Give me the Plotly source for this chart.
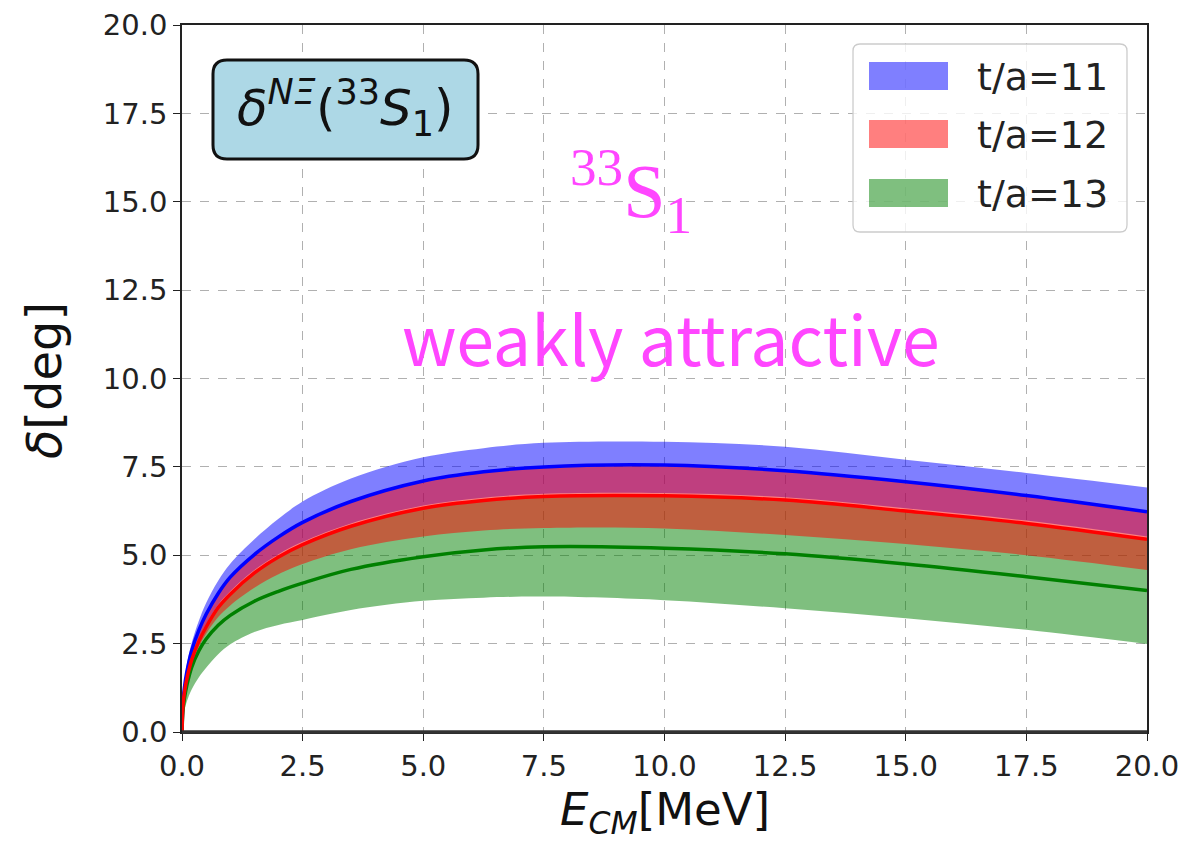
import plotly.graph_objects as go

# ---------------- data ----------------
E_cm = [0, 0.02, 0.05, 0.1, 0.2, 0.35, 0.5, 0.75, 1.0, 1.5, 2.0, 2.5, 3.5, 5.0, 6.25, 7.5, 10.0, 12.5, 15.0, 17.5, 20.0]

# t/a = 11 (blue)
blue_mid = [0, 0.85, 1.25, 1.7, 2.3, 2.88, 3.33, 3.92, 4.38, 5.02, 5.52, 5.93, 6.52, 7.1, 7.36, 7.5, 7.55, 7.39, 7.08, 6.69, 6.23]
blue_hi = [0, 0.95, 1.4, 1.9, 2.52, 3.15, 3.65, 4.28, 4.76, 5.45, 6.03, 6.52, 7.17, 7.77, 8.03, 8.18, 8.21, 8.07, 7.7, 7.33, 6.92]
blue_lo = [0, 0.82, 1.2, 1.58, 2.12, 2.65, 3.05, 3.6, 3.98, 4.58, 5.03, 5.38, 5.9, 6.41, 6.63, 6.74, 6.76, 6.64, 6.33, 5.98, 5.53]

# t/a = 12 (red)
red_mid = [0, 0.75, 1.12, 1.5, 2.04, 2.57, 2.97, 3.52, 3.9, 4.5, 4.95, 5.3, 5.82, 6.33, 6.55, 6.66, 6.68, 6.56, 6.25, 5.9, 5.45]
red_hi = [0, 0.85, 1.25, 1.7, 2.3, 2.88, 3.33, 3.92, 4.38, 5.02, 5.52, 5.93, 6.52, 7.1, 7.36, 7.5, 7.55, 7.39, 7.08, 6.69, 6.23]
red_lo = [0, 0.68, 1.02, 1.4, 1.92, 2.42, 2.78, 3.25, 3.58, 4.08, 4.46, 4.75, 5.17, 5.53, 5.7, 5.77, 5.76, 5.57, 5.32, 5.0, 4.58]

# t/a = 13 (green)
green_mid = [0, 0.6, 0.95, 1.32, 1.83, 2.3, 2.63, 3.02, 3.3, 3.7, 3.98, 4.21, 4.6, 4.96, 5.15, 5.24, 5.2, 5.04, 4.75, 4.39, 4.0]
green_hi = [0, 0.75, 1.12, 1.5, 2.04, 2.57, 2.97, 3.52, 3.9, 4.5, 4.95, 5.3, 5.82, 6.33, 6.55, 6.66, 6.68, 6.56, 6.25, 5.9, 5.45]
green_lo = [0, 0.4, 0.62, 0.86, 1.2, 1.55, 1.82, 2.2, 2.48, 2.83, 3.03, 3.17, 3.45, 3.71, 3.8, 3.83, 3.73, 3.5, 3.22, 2.89, 2.49]

series_names = ["t/a=11", "t/a=12", "t/a=13"]
tick_vals = [0, 2.5, 5, 7.5, 10, 12.5, 15, 17.5, 20]

# ---------------- styling ----------------
W, H = 1187, 844
L, R, T, B = 182, 40, 25, 112
PW, PH = W - L - R, H - T - B

band_fill = {"blue": "rgba(0,0,255,0.5)", "red": "rgba(255,0,0,0.5)", "green": "rgba(0,128,0,0.5)"}
line_col = {"blue": "#0000ff", "red": "#ff0000", "green": "#008000"}
FONT = "DejaVu Sans"
SMOOTH = 1.0


def px(xp):
    return (xp - L) / PW


def py(yp):
    return (H - B - yp) / PH


fig = go.Figure()


def add_band(lo, hi, color, name):
    fig.add_trace(go.Scatter(x=E_cm, y=lo, mode="lines", line=dict(width=0, shape="spline", smoothing=SMOOTH),
                             showlegend=False, hoverinfo="skip"))
    fig.add_trace(go.Scatter(x=E_cm, y=hi, mode="lines", line=dict(width=0, shape="spline", smoothing=SMOOTH),
                             fill="tonexty", fillcolor=band_fill[color], name=name, showlegend=False))


# draw order: blue, green, then red on top (gives the observed colour mixing)
add_band(blue_lo, blue_hi, "blue", series_names[0])
add_band(green_lo, green_hi, "green", series_names[2])
add_band(red_lo, red_hi, "red", series_names[1])

for ys, c, n in [(blue_mid, "blue", series_names[0]), (green_mid, "green", series_names[2]), (red_mid, "red", series_names[1])]:
    fig.add_trace(go.Scatter(x=E_cm, y=ys, mode="lines",
                             line=dict(color=line_col[c], width=3.5, shape="spline", smoothing=SMOOTH),
                             name=n, showlegend=False))

axis_common = dict(
    range=[0, 20], tickvals=tick_vals, tickformat=".1f",
    showgrid=True, gridcolor="#b0b0b0", gridwidth=1, griddash="dash",
    zeroline=False, showline=True, linecolor="#222", linewidth=1.5, mirror=True,
    ticks="outside", ticklen=7, tickwidth=1.3, tickcolor="#222",
    tickfont=dict(family=FONT, size=29, color="#222"),
    automargin=False, fixedrange=True,
)

fig.update_layout(
    width=W, height=H,
    margin=dict(l=L, r=R, t=T, b=B, pad=0),
    paper_bgcolor="white", plot_bgcolor="white",
    xaxis=axis_common,
    yaxis=axis_common,
    showlegend=False,
)

shapes = []
# thick bottom line at y=0
shapes.append(dict(type="line", xref="paper", yref="paper", x0=0, x1=1, y0=0, y1=0,
                   line=dict(color="#333", width=3.5)))


def rounded_rect(x0p, y0p, x1p, y1p, r):
    # pixel coordinates -> paper path with rounded corners
    def P(a, b):
        return f"{px(a):.5f},{py(b):.5f}"
    return (f"M {P(x0p + r, y0p)} L {P(x1p - r, y0p)} Q {P(x1p, y0p)} {P(x1p, y0p + r)} "
            f"L {P(x1p, y1p - r)} Q {P(x1p, y1p)} {P(x1p - r, y1p)} "
            f"L {P(x0p + r, y1p)} Q {P(x0p, y1p)} {P(x0p, y1p - r)} "
            f"L {P(x0p, y0p + r)} Q {P(x0p, y0p)} {P(x0p + r, y0p)} Z")


# label box
shapes.append(dict(type="path", xref="paper", yref="paper", path=rounded_rect(213, 60, 478, 159, 14),
                   fillcolor="#add8e6", line=dict(color="#111", width=3)))
# legend frame
shapes.append(dict(type="path", xref="paper", yref="paper", path=rounded_rect(853, 44, 1127, 232, 7),
                   fillcolor="rgba(255,255,255,0.8)", line=dict(color="#cccccc", width=1.3)))
# legend patches
patch_rows = [(62, 90, "blue"), (120, 148, "red"), (179, 207, "green")]
for (y0p, y1p, c) in patch_rows:
    shapes.append(dict(type="rect", xref="paper", yref="paper", x0=px(869), x1=px(948), y0=py(y1p), y1=py(y0p),
                       fillcolor=band_fill[c], line=dict(width=0)))

annotations = []
for (y0p, y1p, c), name in zip(patch_rows, series_names):
    annotations.append(dict(xref="paper", yref="paper", x=px(975), y=py((y0p + y1p) / 2 + 1), text=name,
                            showarrow=False, xanchor="left", yanchor="middle",
                            font=dict(family=FONT, size=38, color="#222")))

# box text
annotations.append(dict(xref="paper", yref="paper", x=px(345), y=py(108),
                        text="<i>δ</i><sup><i>NΞ</i></sup>(<sup>33</sup><i>S</i><sub>1</sub>)",
                        showarrow=False, xanchor="center", yanchor="middle",
                        font=dict(family=FONT, size=50, color="#111")))
# 33S1 label
annotations.append(dict(x=9.3, y=15.3, text="<sup>33</sup>S<sub>1</sub>", showarrow=False,
                        xanchor="center", yanchor="middle",
                        font=dict(family="Liberation Serif", size=76, color="rgb(255,70,255)")))
# weakly attractive
annotations.append(dict(x=10.13, y=11.2, text="weakly attractive", showarrow=False,
                        xanchor="center", yanchor="middle",
                        font=dict(family="Noto Sans CJK JP", size=68, color="rgb(255,70,255)")))
# axis titles
annotations.append(dict(xref="paper", yref="paper", x=px(665), y=py(812),
                        text="<i>E</i><sub><i>CM</i></sub>[MeV]", showarrow=False,
                        xanchor="center", yanchor="middle",
                        font=dict(family=FONT, size=45, color="#111")))
annotations.append(dict(xref="paper", yref="paper", x=px(44), y=py(381),
                        text="<i>δ</i>[deg]", showarrow=False, textangle=-90,
                        xanchor="center", yanchor="middle",
                        font=dict(family=FONT, size=48, color="#111")))

fig.update_layout(shapes=shapes, annotations=annotations)

fig.write_html("out.html")
